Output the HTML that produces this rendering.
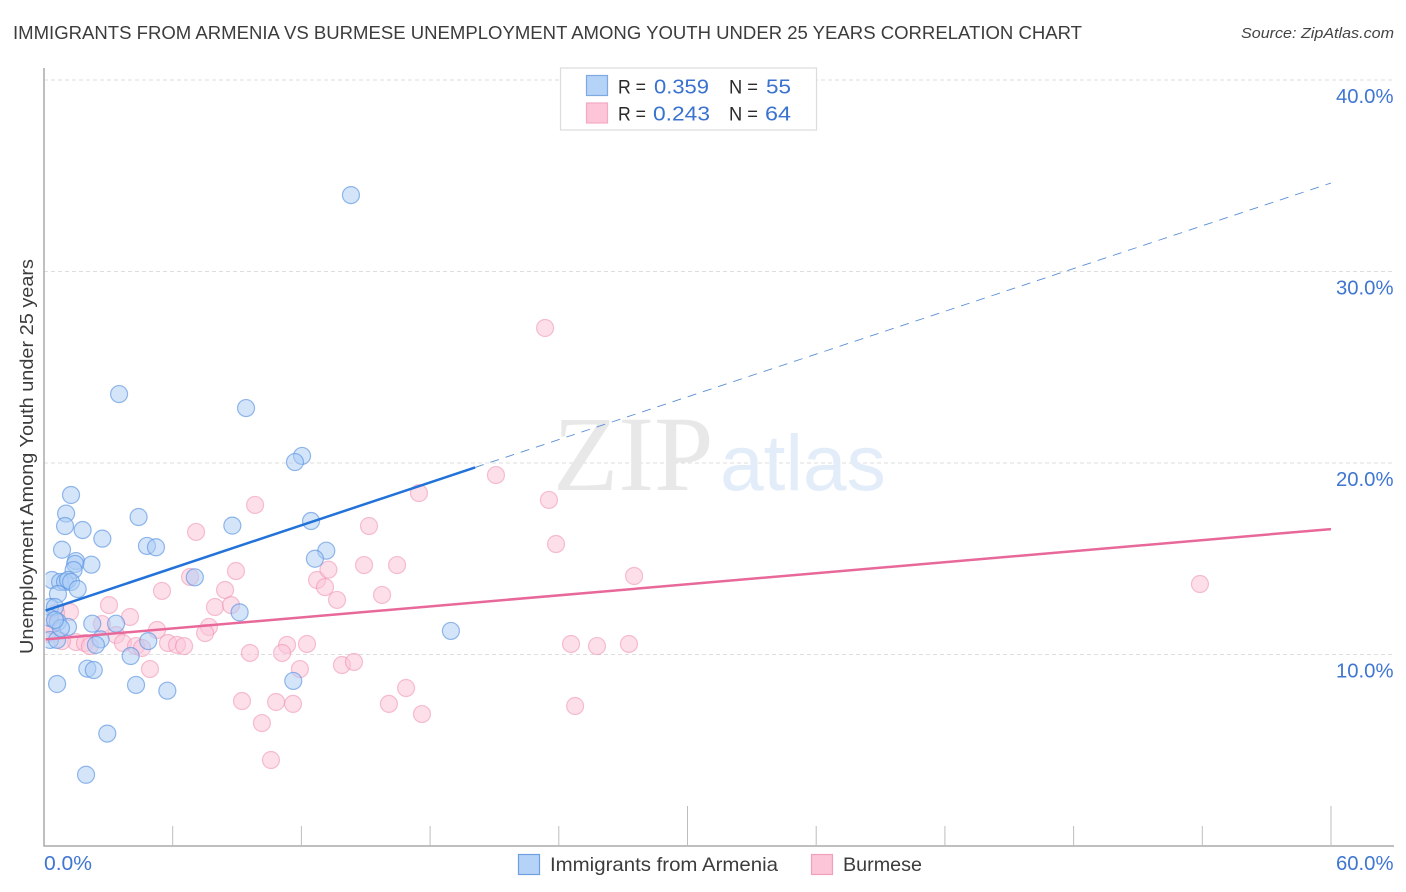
<!DOCTYPE html>
<html lang="en">
<head>
<meta charset="utf-8">
<title>Immigrants from Armenia vs Burmese Unemployment Among Youth Under 25 Years Correlation Chart</title>
<style>
html,body{margin:0;padding:0;background:#fff;width:1406px;height:892px;overflow:hidden}
svg{display:block}
text{font-family:"Liberation Sans",sans-serif}
</style>
</head>
<body>
<svg id="chart" width="1406" height="892" viewBox="0 0 1406 892" xmlns="http://www.w3.org/2000/svg">
  <defs>
    <clipPath id="plot-clip"><rect x="45.5" y="60" width="1350" height="786"/></clipPath>
  </defs>
  <text x="13" y="39" font-size="18.6" fill="#3c3c3c" textLength="1069" lengthAdjust="spacingAndGlyphs">IMMIGRANTS FROM ARMENIA VS BURMESE UNEMPLOYMENT AMONG YOUTH UNDER 25 YEARS CORRELATION CHART</text>
  <text x="1394" y="38" font-size="15" font-style="italic" fill="#444" text-anchor="end" textLength="153" lengthAdjust="spacingAndGlyphs">Source: ZipAtlas.com</text>
  <g id="grid"></g>
  <g>
    <text x="553" y="490" font-size="107" fill="#e8e8e8" style="font-family:'Liberation Serif',serif">ZIP</text>
    <text x="720" y="490" font-size="78.5" fill="#e3edfa">atlas</text>
  </g>
  <g id="axes"></g>
  <g id="points-pink" clip-path="url(#plot-clip)"></g>
  <g id="points-blue" clip-path="url(#plot-clip)"></g>
  <g id="trends"></g>
  <g>
    <rect x="560.5" y="68" width="256" height="62" fill="#fff" stroke="#dcdcdc" stroke-width="1.2"/>
    <rect x="586.5" y="75.5" width="21" height="20" fill="#b5d3f7" stroke="#7fa9e0" stroke-width="1.2"/>
    <rect x="586.5" y="103" width="21" height="20" fill="#fcc5d8" stroke="#f4a9c2" stroke-width="1.2"/>
    <text x="618" y="93.5" font-size="19.5" fill="#2a2a2a" textLength="28" lengthAdjust="spacingAndGlyphs">R =</text>
    <text x="654" y="93.5" font-size="20.5" fill="#3a72d0" textLength="55" lengthAdjust="spacingAndGlyphs">0.359</text>
    <text x="729" y="93.5" font-size="19.5" fill="#2a2a2a" textLength="29" lengthAdjust="spacingAndGlyphs">N =</text>
    <text x="766" y="93.5" font-size="20.5" fill="#3a72d0" textLength="25" lengthAdjust="spacingAndGlyphs">55</text>
    <text x="618" y="120.5" font-size="19.5" fill="#2a2a2a" textLength="28" lengthAdjust="spacingAndGlyphs">R =</text>
    <text x="653" y="120.5" font-size="20.5" fill="#3a72d0" textLength="57" lengthAdjust="spacingAndGlyphs">0.243</text>
    <text x="729" y="120.5" font-size="19.5" fill="#2a2a2a" textLength="29" lengthAdjust="spacingAndGlyphs">N =</text>
    <text x="765" y="120.5" font-size="20.5" fill="#3a72d0" textLength="26" lengthAdjust="spacingAndGlyphs">64</text>
  </g>
  <text transform="translate(33,654) rotate(-90)" font-size="18.5" fill="#3c3c3c" textLength="395" lengthAdjust="spacingAndGlyphs">Unemployment Among Youth under 25 years</text>
  <g>
    <rect x="518.5" y="854.5" width="21" height="20" fill="#b5d3f7" stroke="#6f9fe0" stroke-width="1.2"/>
    <text x="550" y="871" font-size="19.5" fill="#3c3c3c" textLength="228" lengthAdjust="spacingAndGlyphs">Immigrants from Armenia</text>
    <rect x="811.5" y="854.5" width="21" height="20" fill="#fcc5d8" stroke="#f0a0bc" stroke-width="1.2"/>
    <text x="843" y="871" font-size="19.5" fill="#3c3c3c" textLength="79" lengthAdjust="spacingAndGlyphs">Burmese</text>
  </g>
</svg>
<script>
const armeniaX = [14.31,3.50,9.42,12.03,11.70,1.26,1.03,0.98,1.80,2.72,4.41,4.80,5.22,8.78,12.45,13.16,12.63,0.84,1.49,1.45,2.21,1.38,7.03,0.37,0.75,0.98,1.12,1.26,1.57,0.65,0.28,0.51,0.28,0.65,9.12,2.25,3.36,18.97,1.12,2.64,2.42,4.86,4.04,0.28,0.61,2.02,2.32,0.61,4.29,5.75,11.62,2.95,1.96,0.79,0.51];
const armeniaY = [33.99,23.60,22.87,20.37,20.05,18.33,17.36,16.71,16.50,16.05,17.18,15.67,15.60,16.73,16.97,15.42,15.00,15.47,14.88,14.73,14.69,14.41,14.03,13.89,13.79,13.79,13.89,13.79,13.42,13.16,12.48,12.48,11.91,11.70,12.20,11.61,11.61,11.23,11.44,10.79,10.50,10.70,9.92,10.76,10.76,9.26,9.19,8.46,8.41,8.11,8.62,5.87,3.72,11.38,11.80];
const burmeseX = [23.36,53.89,21.07,23.54,17.48,23.87,27.51,9.84,7.09,15.15,14.92,16.46,8.95,6.81,8.44,5.50,12.73,13.26,13.10,13.66,15.76,7.97,8.72,3.03,1.21,4.01,2.70,5.27,7.69,7.51,3.36,3.68,5.78,6.20,6.53,9.60,11.33,11.10,12.26,11.93,13.89,14.45,4.29,4.57,4.94,9.23,10.82,11.61,10.16,10.58,16.08,16.88,17.62,24.76,24.57,25.78,27.27,1.49,1.91,2.14,0.84,0.56,0.14,0.37];
const burmeseY = [27.05,13.68,19.37,18.07,18.43,15.77,14.10,17.81,16.40,16.71,14.67,14.67,14.36,14.05,13.37,13.32,13.89,14.43,13.52,12.85,13.11,12.48,12.58,12.58,12.22,11.96,11.59,11.28,11.44,11.12,11.02,10.60,10.60,10.50,10.44,10.08,10.50,10.08,10.55,9.24,9.45,9.61,10.44,10.34,9.24,7.57,7.52,7.42,6.42,4.49,7.42,8.25,6.89,7.31,10.55,10.44,10.55,10.65,10.60,10.44,10.70,12.17,11.07,11.54];
const armeniaTrendX = [0, 20.1, 60];
const armeniaTrendY = [12.27, 19.77, 34.62];
const burmeseTrendX = [0, 60];
const burmeseTrendY = [10.79, 16.55];
const yTicks = [10, 20, 30, 40];
const yTickLabels = ['10.0%', '20.0%', '30.0%', '40.0%'];
const xTicks = [6, 12, 18, 24, 30, 36, 42, 48, 54, 60];
const xMajorTicks = [30, 60];
const xEndLabels = ['0.0%', '60.0%'];

const NS = 'http://www.w3.org/2000/svg';
const xScale = v => 44 + v * 21.45;
const yScale = v => 654.5 - (v - 10) * 19.15;

function make(parent, tag, attrs, txt) {
  const el = document.createElementNS(NS, tag);
  for (const k in attrs) el.setAttribute(k, attrs[k]);
  if (txt !== undefined) el.textContent = txt;
  parent.appendChild(el);
  return el;
}

const grid = document.getElementById('grid');
const axes = document.getElementById('axes');
const trends = document.getElementById('trends');

yTicks.forEach((t, i) => {
  const line = make(grid, 'line', {x1: 44, x2: 1393, y1: yScale(t), y2: yScale(t), stroke: '#dedede', 'stroke-width': 1, 'stroke-dasharray': '4 3'});
  
  
  const label = make(axes, 'text', {x: 1393.5, y: yScale(t) + 23, 'font-size': 20.3, fill: '#3f76d2', 'text-anchor': 'end'}, yTickLabels[i]);
  
  
});

const yAxis = make(axes, 'line', {x1: 44, x2: 44, y1: 68, y2: 846.5, stroke: '#aaa', 'stroke-width': 1.5});


const xAxis = make(axes, 'line', {x1: 43.5, x2: 1394, y1: 846, y2: 846, stroke: '#aaa', 'stroke-width': 1.5});



xTicks.forEach(t => {
  const top = xMajorTicks.includes(t) ? 806 : 826;
  const tick = make(axes, 'line', {x1: xScale(t), x2: xScale(t), y1: top, y2: 846, stroke: '#bdbdbd', 'stroke-width': 1});
  
  
});

const xLabelLeft = make(axes, 'text', {x: 44, y: 870, 'font-size': 20.3, fill: '#3f76d2', textLength: 48, lengthAdjust: 'spacingAndGlyphs'}, xEndLabels[0]);


const xLabelRight = make(axes, 'text', {x: 1393.5, y: 870, 'font-size': 20.3, fill: '#3f76d2', 'text-anchor': 'end'}, xEndLabels[1]);



const pinkGroup = document.getElementById('points-pink');
burmeseX.forEach((v, i) => {
  const c = make(pinkGroup, 'circle', {cx: xScale(v), cy: yScale(burmeseY[i]), r: 8.5, fill: '#fcc5d8', 'fill-opacity': 0.55, stroke: '#ee8fae', 'stroke-opacity': 0.55, 'stroke-width': 1.2});
  
  
});

const blueGroup = document.getElementById('points-blue');
armeniaX.forEach((v, i) => {
  const c = make(blueGroup, 'circle', {cx: xScale(v), cy: yScale(armeniaY[i]), r: 8.5, fill: '#a9cbf5', 'fill-opacity': 0.5, stroke: '#5b93e0', 'stroke-opacity': 0.65, 'stroke-width': 1.2});
  
  
});

const armeniaSolid = make(trends, 'line', {x1: xScale(armeniaTrendX[0]) + 1.5, y1: yScale(armeniaTrendY[0]) - 0.5, x2: xScale(armeniaTrendX[1]), y2: yScale(armeniaTrendY[1]), stroke: '#2272d8', 'stroke-width': 2.5});


const armeniaDash = make(trends, 'line', {x1: xScale(armeniaTrendX[1]), y1: yScale(armeniaTrendY[1]), x2: xScale(armeniaTrendX[2]), y2: yScale(armeniaTrendY[2]), stroke: '#5a8fd6', 'stroke-width': 0.9, 'stroke-dasharray': '9 7'});


const burmeseLine = make(trends, 'line', {x1: xScale(burmeseTrendX[0]) + 1.5, y1: yScale(burmeseTrendY[0]), x2: xScale(burmeseTrendX[1]), y2: yScale(burmeseTrendY[1]), stroke: '#e8689a', 'stroke-width': 2.5});


</script>
</body>
</html>
